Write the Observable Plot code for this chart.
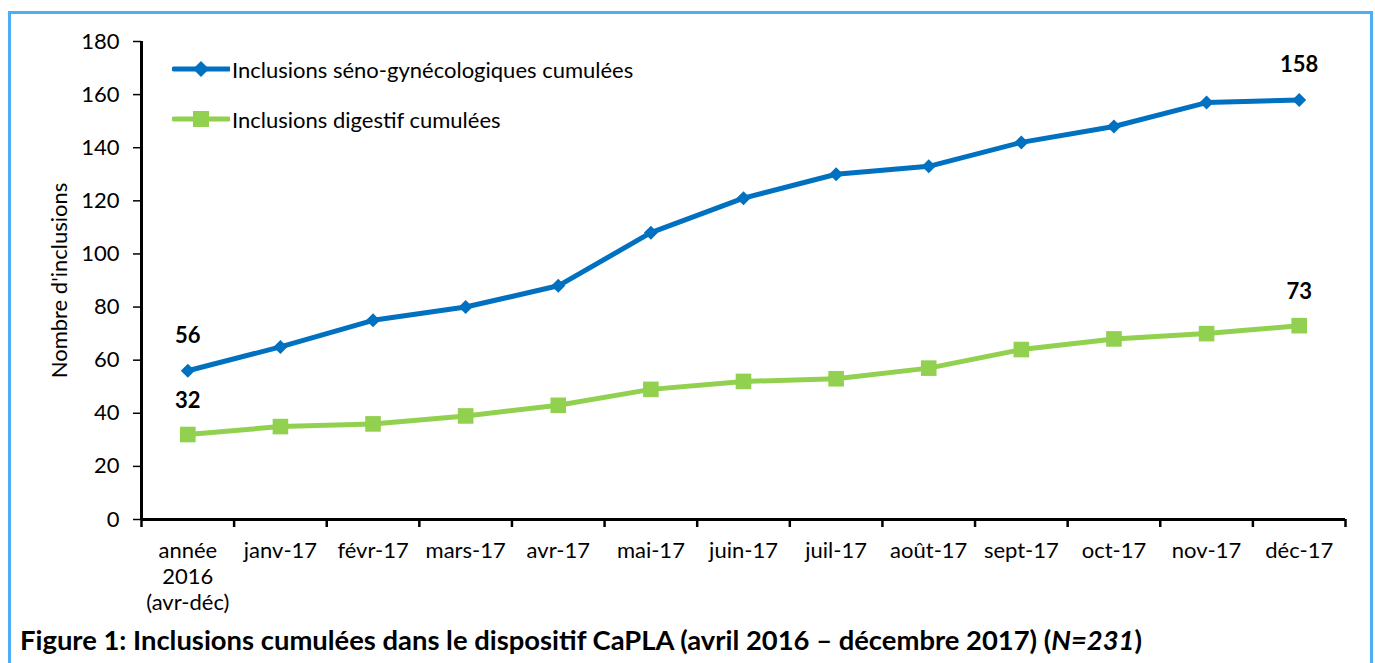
<!DOCTYPE html>
<html>
<head>
<meta charset="utf-8">
<script src="https://cdn.jsdelivr.net/npm/d3@7"></script>
<script src="https://cdn.jsdelivr.net/npm/@observablehq/plot@0.6"></script>
<style>
  html, body { margin: 0; padding: 0; background: #fff; }
  body { width: 1375px; height: 663px; overflow: hidden; position: relative; font-family: Lato, "Open Sans", sans-serif; }
  #frame { position: absolute; left: 8px; top: 11px; width: 1365px; height: 700px; border: 3px solid #4DAEF2; box-sizing: border-box; }
  #chart { position: absolute; left: 0; top: 0; }
  #legend { position: absolute; left: 172px; top: 54px; font-size: 22px; color: #000; }
  .item { display: flex; align-items: center; height: 30px; margin-bottom: 20px; }
  .item svg { display: block; margin-right: 2px; }
  #caption { position: absolute; left: 20px; top: 623px; font-size: 27.4px; line-height: 34px; font-weight: bold; color: #000; white-space: nowrap; }
</style>
</head>
<body>
<div id="frame"></div>
<div id="chart"></div>
<div id="legend"></div>
<div id="caption">Figure 1: Inclusions cumulées dans le dispositif CaPLA (avril 2016 – décembre 2017) (<i>N=231</i>)</div>
<script>
const categories = ["année\n2016\n(avr-déc)", "janv-17", "févr-17", "mars-17", "avr-17", "mai-17", "juin-17", "juil-17", "août-17", "sept-17", "oct-17", "nov-17", "déc-17"];
const senoGyneco = [56, 65, 75, 80, 88, 108, 121, 130, 133, 142, 148, 157, 158];
const digestif = [32, 35, 36, 39, 43, 49, 52, 53, 57, 64, 68, 70, 73];
const seriesNames = ["Inclusions séno-gynécologiques cumulées", "Inclusions digestif cumulées"];
const yTicks = [0, 20, 40, 60, 80, 100, 120, 140, 160, 180];
const yLabel = "Nombre d'inclusions";

const blue = "#0070C0";
const green = "#92D050";

const seno = senoGyneco.map((v, i) => ({i, v}));
const dig = digestif.map((v, i) => ({i, v}));
const labelIdx = [0, categories.length - 1];
const boundaries = d3.range(categories.length + 1).map(k => k - 0.5);

const chart = Plot.plot({
  width: 1375,
  height: 622,
  marginLeft: 141,
  marginRight: 30,
  marginTop: 41,
  marginBottom: 103,
  style: {fontFamily: "Lato, 'Open Sans', sans-serif", fontSize: "22px", color: "#000", background: "transparent"},
  x: {domain: [-0.5, categories.length - 0.5]},
  y: {domain: [0, 180]},
  marks: [
    Plot.axisY({ticks: yTicks, tickSize: 8, tickPadding: 14, tickFormat: d => d, label: null, strokeWidth: 1.5, fontSize: 22}),
    Plot.text([yLabel], {frameAnchor: "left", text: d => d, rotate: -90, textAnchor: "middle", lineAnchor: "middle", dx: -82, fontSize: 22}),
    Plot.axisX({ticks: boundaries, tickSize: 8, tickFormat: () => "", strokeWidth: 2.5, label: null}),
    Plot.axisX({ticks: d3.range(categories.length), tickSize: 0, tickPadding: 20, tickFormat: i => categories[i], label: null, lineHeight: 1.18, fontSize: 22}),
    Plot.ruleX([-0.5], {stroke: "#000", strokeWidth: 3}),
    Plot.ruleY([0], {stroke: "#000", strokeWidth: 3}),
    Plot.line(seno, {x: "i", y: "v", stroke: blue, strokeWidth: 5}),
    Plot.dot(seno, {x: "i", y: "v", symbol: "diamond2", r: 6.3, fill: blue, stroke: null}),
    Plot.line(dig, {x: "i", y: "v", stroke: green, strokeWidth: 5}),
    Plot.dot(dig, {x: "i", y: "v", symbol: "square", r: 8.8, fill: green, stroke: null}),
    Plot.text(labelIdx.map(i => seno[i]), {x: "i", y: "v", text: d => String(d.v), dy: -35, fontWeight: "bold", fontSize: 22}),
    Plot.text(labelIdx.map(i => dig[i]), {x: "i", y: "v", text: d => String(d.v), dy: -34, fontWeight: "bold", fontSize: 22})
  ]
});
document.getElementById("chart").appendChild(chart);

// legend
const legend = document.getElementById("legend");
[[seriesNames[0], blue, "diamond"], [seriesNames[1], green, "square"]].forEach(([name, color, shape]) => {
  const item = document.createElement("div");
  item.className = "item";
  const ns = "http://www.w3.org/2000/svg";
  const svg = document.createElementNS(ns, "svg");
  svg.setAttribute("width", 58);
  svg.setAttribute("height", 30);
  const line = document.createElementNS(ns, "line");
  line.setAttribute("x1", 2); line.setAttribute("x2", 57);
  line.setAttribute("y1", 15); line.setAttribute("y2", 15);
  line.setAttribute("stroke", color); line.setAttribute("stroke-width", 5);
  line.setAttribute("stroke-linecap", "round");
  svg.appendChild(line);
  const m = document.createElementNS(ns, "path");
  m.setAttribute("d", shape === "diamond" ? "M29,7L37,15L29,23L21,15Z" : "M21,7H37V23H21Z");
  m.setAttribute("fill", color);
  svg.appendChild(m);
  item.appendChild(svg);
  const t = document.createElement("span");
  t.textContent = name;
  item.appendChild(t);
  legend.appendChild(item);
});
</script>
</body>
</html>
